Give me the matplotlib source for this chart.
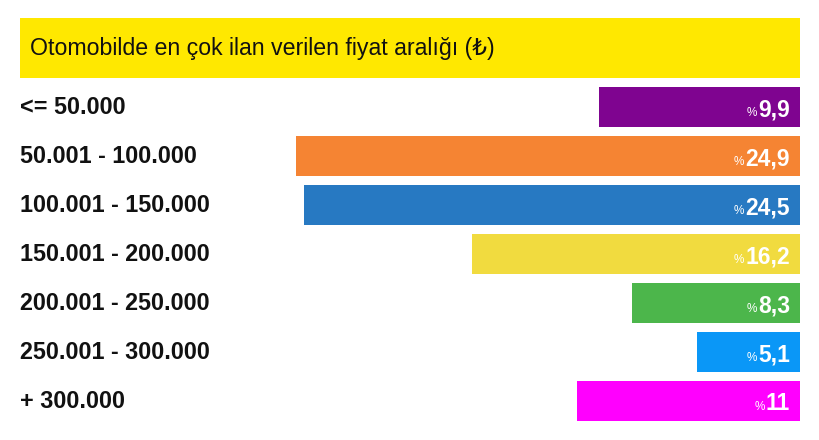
import matplotlib
matplotlib.use("Agg")
import matplotlib.pyplot as plt
from matplotlib.patches import Rectangle

title = "Otomobilde en çok ilan verilen fiyat aralığı (₺)"
categories = ["<= 50.000", "50.001 - 100.000", "100.001 - 150.000",
              "150.001 - 200.000", "200.001 - 250.000", "250.001 - 300.000",
              "+ 300.000"]
values = [9.9, 24.9, 24.5, 16.2, 8.3, 5.1, 11]
value_labels = ["9,9", "24,9", "24,5", "16,2", "8,3", "5,1", "11"]
colors = ["#7F0490", "#F58433", "#2779C2", "#F1DB3F", "#4CB64B", "#0A97F7", "#FF00FE"]

W, H = 820, 440
fig = plt.figure(figsize=(W / 100, H / 100), dpi=100)
fig.patch.set_facecolor("white")
plt.rcParams['font.family'] = ['Liberation Sans', 'DejaVu Sans']

# header banner
fig.patches.append(Rectangle((20 / W, 1 - 78 / H), 780 / W, 60 / H,
                             transform=fig.transFigure, facecolor="#FFE800",
                             edgecolor="none", zorder=0))
fig.text(30 / W, 1 - 49 / H, title, fontsize=16.7, color="#111111",
         ha="left", va="center", family=['Liberation Sans', 'DejaVu Sans'])

top_px, pitch = 82.5, 49.0
n = len(categories)
ax = fig.add_axes([20 / W, 1 - (top_px + n * pitch) / H, 780 / W, n * pitch / H])
ypos = list(range(n))
ax.barh(ypos, values, height=0.8, color=colors, left=0)
ax.set_xlim(38.5, 0)
ax.set_ylim(n - 0.5, -0.5)
ax.axis("off")

for i, c in enumerate(categories):
    ax.text(0.0, i + 0.02, c, transform=ax.get_yaxis_transform(), ha="left", va="center",
            fontsize=16.8, fontweight="bold", color="#111111")

fig.canvas.draw()
renderer = fig.canvas.get_renderer()
for i, lab in enumerate(value_labels):
    t = ax.annotate(lab, xy=(0, i), xycoords=("data", "data"), xytext=(-10, 0),
                    textcoords="offset pixels", ha="right", va="center_baseline",
                    fontsize=16.5, fontweight="bold", color="white")
    fig.canvas.draw()
    bb = t.get_window_extent(renderer)
    fig.text((bb.x0 - 1) / W, (bb.y0 + 2) / H, "%", ha="right", va="bottom",
             fontsize=8.5, color="white")

fig.savefig("out.png", dpi=100)
